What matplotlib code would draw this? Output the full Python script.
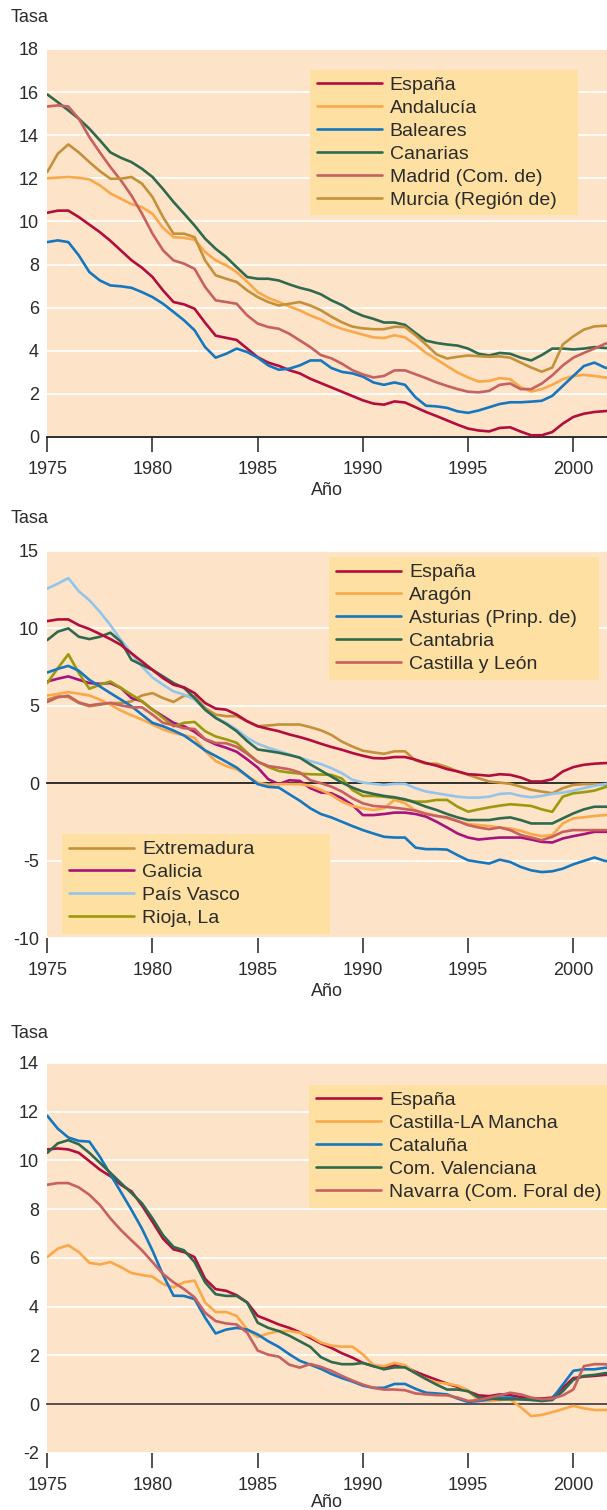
import numpy as np
import matplotlib
matplotlib.use("Agg")
import matplotlib.pyplot as plt

plt.rcParams['font.family'] = ['Liberation Sans', 'DejaVu Sans']
plt.rcParams['font.size'] = 13
plt.rcParams['axes.unicode_minus'] = False

# half-year steps 1975.0 ... 2002.0 (55 points)
years = np.arange(1975, 2002.01, 0.5)

# ---- panel 1
espana1 = [10.4, 10.5, 10.5, 10.2, 9.85, 9.5, 9.1, 8.65, 8.2, 7.85,
           7.42, 6.8, 6.26, 6.15, 5.95, 5.3, 4.7, 4.6, 4.5, 4.1,
           3.7, 3.45, 3.3, 3.1, 2.95, 2.7, 2.5, 2.3, 2.1, 1.9,
           1.7, 1.55, 1.5, 1.65, 1.6, 1.38, 1.16, 0.97, 0.77, 0.57,
           0.39, 0.3, 0.26, 0.42, 0.45, 0.25, 0.08, 0.08, 0.23, 0.62,
           0.93, 1.08, 1.16, 1.2, 1.24]
andalucia = [12.0, 12.03, 12.06, 12.02, 11.95, 11.67, 11.3, 11.05, 10.8, 10.66,
             10.35, 9.7, 9.27, 9.24, 9.15, 8.58, 8.2, 7.96, 7.65, 7.2,
             6.72, 6.45, 6.26, 6.06, 5.87, 5.64, 5.45, 5.2, 5.02, 4.88,
             4.75, 4.62, 4.59, 4.72, 4.62, 4.29, 3.9, 3.6, 3.29, 2.99,
             2.76, 2.57, 2.6, 2.73, 2.68, 2.3, 2.11, 2.22, 2.42, 2.68,
             2.83, 2.88, 2.83, 2.76, 2.72]
baleares = [9.04, 9.12, 9.04, 8.42, 7.65, 7.26, 7.03, 6.99, 6.92, 6.72,
            6.49, 6.18, 5.8, 5.41, 4.95, 4.17, 3.68, 3.86, 4.1, 3.94,
            3.68, 3.32, 3.12, 3.17, 3.32, 3.55, 3.55, 3.2, 3.02, 2.95,
            2.8, 2.53, 2.42, 2.53, 2.42, 1.84, 1.45, 1.42, 1.35, 1.19,
            1.12, 1.23, 1.38, 1.53, 1.61, 1.61, 1.64, 1.68, 1.91, 2.37,
            2.83, 3.29, 3.45, 3.22, 3.1]
canarias = [15.89, 15.53, 15.15, 14.76, 14.3, 13.76, 13.2, 12.95, 12.75, 12.44,
            12.06, 11.5, 10.9, 10.36, 9.81, 9.2, 8.73, 8.35, 7.88, 7.42,
            7.34, 7.34, 7.26, 7.08, 6.92, 6.8, 6.62, 6.34, 6.12, 5.83,
            5.62, 5.48, 5.31, 5.31, 5.2, 4.82, 4.47, 4.36, 4.29, 4.24,
            4.1, 3.86, 3.78, 3.9, 3.86, 3.68, 3.55, 3.8, 4.1, 4.1,
            4.06, 4.1, 4.17, 4.13, 4.1]
madrid = [15.33, 15.38, 15.33, 14.76, 13.91, 13.2, 12.52, 11.9, 11.2, 10.36,
          9.43, 8.66, 8.19, 8.04, 7.8, 6.96, 6.34, 6.26, 6.18, 5.64,
          5.26, 5.1, 5.02, 4.79, 4.48, 4.17, 3.8, 3.65, 3.4, 3.1,
          2.9, 2.76, 2.83, 3.09, 3.09, 2.91, 2.73, 2.53, 2.37, 2.22,
          2.1, 2.07, 2.14, 2.42, 2.48, 2.22, 2.22, 2.48, 2.86, 3.32,
          3.68, 3.9, 4.1, 4.32, 4.45]
murcia = [12.29, 13.14, 13.57, 13.2, 12.75, 12.33, 11.98, 11.98, 12.06, 11.75,
          11.13, 10.2, 9.43, 9.43, 9.27, 8.19, 7.5, 7.34, 7.19, 6.8,
          6.49, 6.26, 6.1, 6.18, 6.26, 6.1, 5.88, 5.58, 5.32, 5.12,
          5.04, 5.0, 5.0, 5.11, 5.1, 4.72, 4.29, 3.83, 3.64, 3.72,
          3.78, 3.75, 3.72, 3.74, 3.68, 3.45, 3.22, 3.03, 3.22, 4.29,
          4.67, 4.98, 5.13, 5.16, 5.16]

# ---- panel 2
espana2 = [10.47, 10.58, 10.58, 10.21, 9.96, 9.64, 9.31, 8.93, 8.39, 7.86,
           7.32, 6.79, 6.36, 6.19, 5.82, 5.18, 4.82, 4.75, 4.43, 4.0,
           3.68, 3.51, 3.36, 3.15, 2.98, 2.78, 2.55, 2.34, 2.16, 1.95,
           1.77, 1.62, 1.6, 1.69, 1.69, 1.52, 1.3, 1.13, 0.91, 0.76,
           0.58, 0.54, 0.48, 0.58, 0.54, 0.37, 0.11, 0.11, 0.26, 0.76,
           1.04, 1.19, 1.26, 1.3, 1.32]
aragon = [5.67, 5.76, 5.89, 5.78, 5.67, 5.4, 5.07, 4.69, 4.39, 4.11,
          3.79, 3.47, 3.25, 3.1, 2.93, 2.08, 1.43, 1.11, 0.9, 0.47,
          0.04, -0.1, -0.06, -0.06, -0.06, -0.17, -0.43, -0.76, -1.19, -1.47,
          -1.62, -1.73, -1.62, -1.08, -1.3, -1.77, -1.95, -2.1, -2.27, -2.45,
          -2.64, -2.7, -2.77, -2.86, -2.92, -3.07, -3.29, -3.42, -3.35, -2.6,
          -2.27, -2.2, -2.12, -2.06, -2.04]
asturias = [7.15, 7.39, 7.58, 7.26, 6.68, 6.25, 5.82, 5.4, 4.97, 4.43,
            3.9, 3.68, 3.4, 3.08, 2.61, 2.12, 1.76, 1.39, 1.01, 0.47,
            -0.06, -0.24, -0.28, -0.71, -1.13, -1.62, -1.99, -2.21, -2.49, -2.77,
            -3.03, -3.25, -3.46, -3.51, -3.51, -4.16, -4.26, -4.26, -4.29, -4.65,
            -4.98, -5.09, -5.19, -4.94, -5.09, -5.41, -5.63, -5.74, -5.69, -5.52,
            -5.24, -5.02, -4.8, -5.02, -5.1]
cantabria = [9.25, 9.79, 10.0, 9.46, 9.31, 9.46, 9.72, 9.14, 7.97, 7.64,
             7.32, 6.9, 6.47, 6.15, 5.5, 4.75, 4.22, 3.83, 3.36, 2.72,
             2.18, 2.08, 1.97, 1.82, 1.65, 1.22, 0.82, 0.43, 0.04, -0.28,
             -0.54, -0.69, -0.82, -0.91, -1.04, -1.26, -1.52, -1.73, -1.99, -2.21,
             -2.38, -2.38, -2.38, -2.27, -2.21, -2.38, -2.6, -2.6, -2.6, -2.27,
             -1.95, -1.69, -1.52, -1.52, -1.52]
castilla_leon = [5.25, 5.55, 5.65, 5.22, 5.03, 5.12, 5.18, 5.03, 4.9, 4.9,
                 4.43, 3.9, 3.75, 3.55, 3.5, 2.85, 2.6, 2.58, 2.35, 1.9,
                 1.39, 1.11, 1.01, 0.9, 0.69, 0.19, 0.0, -0.22, -0.54, -0.97,
                 -1.3, -1.47, -1.52, -1.58, -1.67, -1.77, -1.99, -2.12, -2.21, -2.45,
                 -2.71, -2.86, -2.97, -2.86, -3.03, -3.35, -3.51, -3.68, -3.46, -3.14,
                 -3.03, -3.03, -3.03, -3.03, -3.03]
extremadura = [5.4, 5.61, 5.57, 5.18, 4.97, 5.07, 5.18, 5.18, 5.29, 5.67,
               5.82, 5.5, 5.25, 5.65, 5.61, 4.86, 4.43, 4.33, 4.33, 4.0,
               3.68, 3.73, 3.79, 3.79, 3.79, 3.62, 3.42, 3.12, 2.69, 2.37,
               2.1, 1.99, 1.9, 2.06, 2.06, 1.47, 1.26, 1.26, 1.04, 0.76,
               0.54, 0.32, 0.11, 0.04, -0.04, -0.22, -0.43, -0.54, -0.65, -0.32,
               -0.11, -0.06, -0.06, -0.11, -0.11]
galicia = [6.57, 6.75, 6.9, 6.68, 6.47, 6.42, 6.47, 6.15, 5.5, 5.29,
           4.75, 4.33, 3.9, 3.68, 3.32, 2.83, 2.51, 2.29, 2.03, 1.54,
           1.01, 0.26, -0.06, 0.19, 0.15, -0.32, -0.6, -0.65, -0.97, -1.41,
           -2.06, -2.06, -1.99, -1.9, -1.9, -1.99, -2.16, -2.49, -2.86, -3.25,
           -3.51, -3.64, -3.57, -3.51, -3.51, -3.51, -3.64, -3.79, -3.83, -3.57,
           -3.42, -3.29, -3.14, -3.14, -3.14]
pais_vasco = [12.57, 12.89, 13.25, 12.4, 11.82, 11.07, 10.21, 9.25, 8.4, 7.54,
              6.83, 6.36, 5.93, 5.72, 5.4, 4.75, 4.22, 3.9, 3.47, 2.93,
              2.55, 2.29, 2.08, 1.86, 1.65, 1.43, 1.24, 0.97, 0.65, 0.22,
              0.04, -0.04, -0.11, -0.04, -0.04, -0.32, -0.54, -0.65, -0.76, -0.87,
              -0.93, -0.93, -0.87, -0.69, -0.65, -0.82, -0.91, -0.82, -0.69, -0.61,
              -0.48, -0.32, -0.17, -0.06, 0.0]
rioja = [6.47, 7.43, 8.33, 7.11, 6.1, 6.36, 6.57, 6.15, 5.72, 5.29,
         4.75, 4.22, 3.68, 3.9, 3.96, 3.36, 3.02, 2.83, 2.61, 1.97,
         1.39, 1.05, 0.79, 0.69, 0.62, 0.58, 0.56, 0.54, 0.3, -0.43,
         -0.82, -0.82, -0.87, -0.97, -1.08, -1.19, -1.19, -1.08, -1.08, -1.52,
         -1.84, -1.69, -1.56, -1.45, -1.36, -1.41, -1.47, -1.69, -1.85, -0.87,
         -0.65, -0.58, -0.48, -0.26, -0.15]

# ---- panel 3
espana3 = [10.45, 10.49, 10.45, 10.31, 9.97, 9.62, 9.35, 9.0, 8.73, 8.15,
           7.48, 6.79, 6.35, 6.24, 6.03, 5.14, 4.72, 4.65, 4.47, 4.17,
           3.62, 3.45, 3.27, 3.13, 2.95, 2.72, 2.49, 2.31, 2.09, 1.91,
           1.69, 1.56, 1.51, 1.6, 1.53, 1.33, 1.16, 1.0, 0.84, 0.71,
           0.53, 0.36, 0.33, 0.4, 0.37, 0.29, 0.24, 0.23, 0.27, 0.67,
           1.07, 1.13, 1.16, 1.2, 1.22]
castilla_mancha = [6.03, 6.38, 6.52, 6.24, 5.8, 5.73, 5.83, 5.62, 5.38, 5.3,
                   5.23, 4.93, 4.79, 5.0, 5.07, 4.17, 3.78, 3.78, 3.62, 3.06,
                   2.76, 2.9, 3.0, 3.0, 2.93, 2.79, 2.53, 2.4, 2.36, 2.36,
                   2.04, 1.6, 1.56, 1.69, 1.6, 1.27, 1.03, 0.89, 0.84, 0.76,
                   0.57, 0.13, 0.13, 0.17, 0.2, -0.13, -0.49, -0.44, -0.33, -0.2,
                   -0.07, -0.17, -0.24, -0.24, -0.24]
cataluna = [11.83, 11.3, 10.94, 10.8, 10.77, 10.15, 9.42, 8.7, 7.97, 7.2,
            6.3, 5.3, 4.45, 4.44, 4.31, 3.55, 2.9, 3.06, 3.13, 3.06,
            2.86, 2.58, 2.35, 2.05, 1.78, 1.62, 1.45, 1.24, 1.07, 0.93,
            0.76, 0.67, 0.67, 0.83, 0.83, 0.63, 0.47, 0.44, 0.4, 0.23,
            0.09, 0.13, 0.2, 0.27, 0.27, 0.2, 0.2, 0.17, 0.23, 0.8,
            1.37, 1.43, 1.43, 1.49, 1.52]
valenciana = [10.31, 10.7, 10.83, 10.66, 10.31, 9.9, 9.49, 9.07, 8.66, 8.24,
              7.62, 6.93, 6.45, 6.31, 5.83, 5.0, 4.51, 4.44, 4.44, 4.17,
              3.34, 3.13, 3.0, 2.81, 2.58, 2.35, 1.93, 1.73, 1.64, 1.64,
              1.69, 1.56, 1.43, 1.51, 1.51, 1.27, 1.03, 0.8, 0.6, 0.6,
              0.53, 0.27, 0.23, 0.2, 0.2, 0.2, 0.17, 0.13, 0.17, 0.53,
              1.0, 1.16, 1.2, 1.27, 1.3]
navarra = [9.0, 9.07, 9.07, 8.89, 8.59, 8.17, 7.62, 7.14, 6.72, 6.31,
           5.83, 5.34, 5.0, 4.72, 4.38, 3.75, 3.41, 3.31, 3.27, 2.93,
           2.2, 2.03, 1.95, 1.62, 1.5, 1.65, 1.53, 1.37, 1.16, 0.97,
           0.8, 0.67, 0.6, 0.6, 0.57, 0.44, 0.4, 0.37, 0.36, 0.27,
           0.13, 0.17, 0.27, 0.36, 0.47, 0.4, 0.27, 0.2, 0.23, 0.36,
           0.6, 1.56, 1.64, 1.64, 1.55]

x_ticks = [1975, 1980, 1985, 1990, 1995, 2000]

BG = '#fde3c8'
LEG_BG = '#fde0a2'
TXT = '#2b2b2b'
RED = '#b20d3d'
ORANGE = '#f9a84a'
BLUE = '#1477c0'
GREEN = '#2f6a4e'
ROSE = '#c7615f'
GOLD = '#c4913b'
MAGENTA = '#a8127c'
LIGHTBLUE = '#93c5ec'
OLIVE = '#9b9a0c'

LEG_KW = dict(fontsize=14, labelspacing=0.27, handlelength=3.35, handletextpad=0.4,
              borderpad=0.35, borderaxespad=0, mode='expand', fancybox=False,
              framealpha=1, facecolor=LEG_BG, edgecolor='none', loc='upper left')


def draw_panel(fig, rect, series, ylim, yticks, legends, zero_color, xpad=3):
    ax = fig.add_axes(rect)
    ax.set_facecolor(BG)
    for s in ax.spines.values():
        s.set_visible(False)
    for v in yticks:
        ax.axhline(v, color='white', lw=1.2, zorder=1)
    ax.axhline(0, color=zero_color, lw=1.3, zorder=2, clip_on=False)
    lines = {}
    for label, vals, col in series:
        ln, = ax.plot(years, vals, color=col, lw=1.9, label=label, zorder=3,
                      solid_capstyle='round', solid_joinstyle='round')
        lines[label] = ln
    ax.set_xlim(1975, 2001.6)
    ax.set_ylim(*ylim)
    ax.set_xticks(x_ticks)
    ax.set_yticks(yticks)
    ax.tick_params(axis='x', length=11, width=1.2, color='#333333', pad=6.5,
                   labelcolor=TXT, labelsize=13)
    ax.tick_params(axis='y', length=0, pad=6, labelcolor=TXT, labelsize=13)
    ax.set_xlabel('Año', color=TXT, fontsize=13, labelpad=xpad)
    for labels, box in legends:
        leg = ax.legend([lines[l] for l in labels], labels, bbox_to_anchor=box, **LEG_KW)
        for t in leg.get_texts():
            t.set_color(TXT)
        ax.add_artist(leg)
    return ax


fig = plt.figure(figsize=(6.07, 15.10), dpi=100)
left, width = 0.0779, 0.9221

p1 = [('España', espana1, RED), ('Andalucía', andalucia, ORANGE),
      ('Baleares', baleares, BLUE), ('Canarias', canarias, GREEN),
      ('Madrid (Com. de)', madrid, ROSE), ('Murcia (Región de)', murcia, GOLD)]
draw_panel(fig, [left, 0.7106, width, 0.2570], p1, (0, 18), list(range(0, 19, 2)),
           [([s[0] for s in p1], (0.4696, 0.572, 0.4786, 0.374))], '#1e1e1e')

p2 = [('Extremadura', extremadura, GOLD), ('Galicia', galicia, MAGENTA),
      ('País Vasco', pais_vasco, LIGHTBLUE), ('Rioja, La', rioja, OLIVE),
      ('Aragón', aragon, ORANGE), ('Asturias (Prinp. de)', asturias, BLUE),
      ('Cantabria', cantabria, GREEN), ('Castilla y León', castilla_leon, ROSE),
      ('España', espana2, RED)]
draw_panel(fig, [left, 0.3788, width, 0.2563], p2, (-10, 15), [-10, -5, 0, 5, 10, 15],
           [(['España', 'Aragón', 'Asturias (Prinp. de)', 'Cantabria', 'Castilla y León'],
             (0.5036, 0.672, 0.482, 0.3125)),
            (['Extremadura', 'Galicia', 'País Vasco', 'Rioja, La'],
             (0.0268, 0.0207, 0.4786, 0.248))], '#1e1e1e')

p3 = [('España', espana3, RED), ('Castilla-LA Mancha', castilla_mancha, ORANGE),
      ('Cataluña', cataluna, BLUE), ('Com. Valenciana', valenciana, GREEN),
      ('Navarra (Com. Foral de)', navarra, ROSE)]
draw_panel(fig, [left, 0.0378, width, 0.2583], p3, (-2, 14), list(range(-2, 15, 2)),
           [([s[0] for s in p3], (0.468, 0.636, 0.56, 0.3076))], '#4a4242', xpad=0)

for y in (1 - 17 / 1510, 1 - 519 / 1510, 1 - 1033 / 1510):
    fig.text(11 / 607, y, 'Tasa', ha='left', va='center', color=TXT, fontsize=13)

fig.savefig('out.png', dpi=100, facecolor='white')
